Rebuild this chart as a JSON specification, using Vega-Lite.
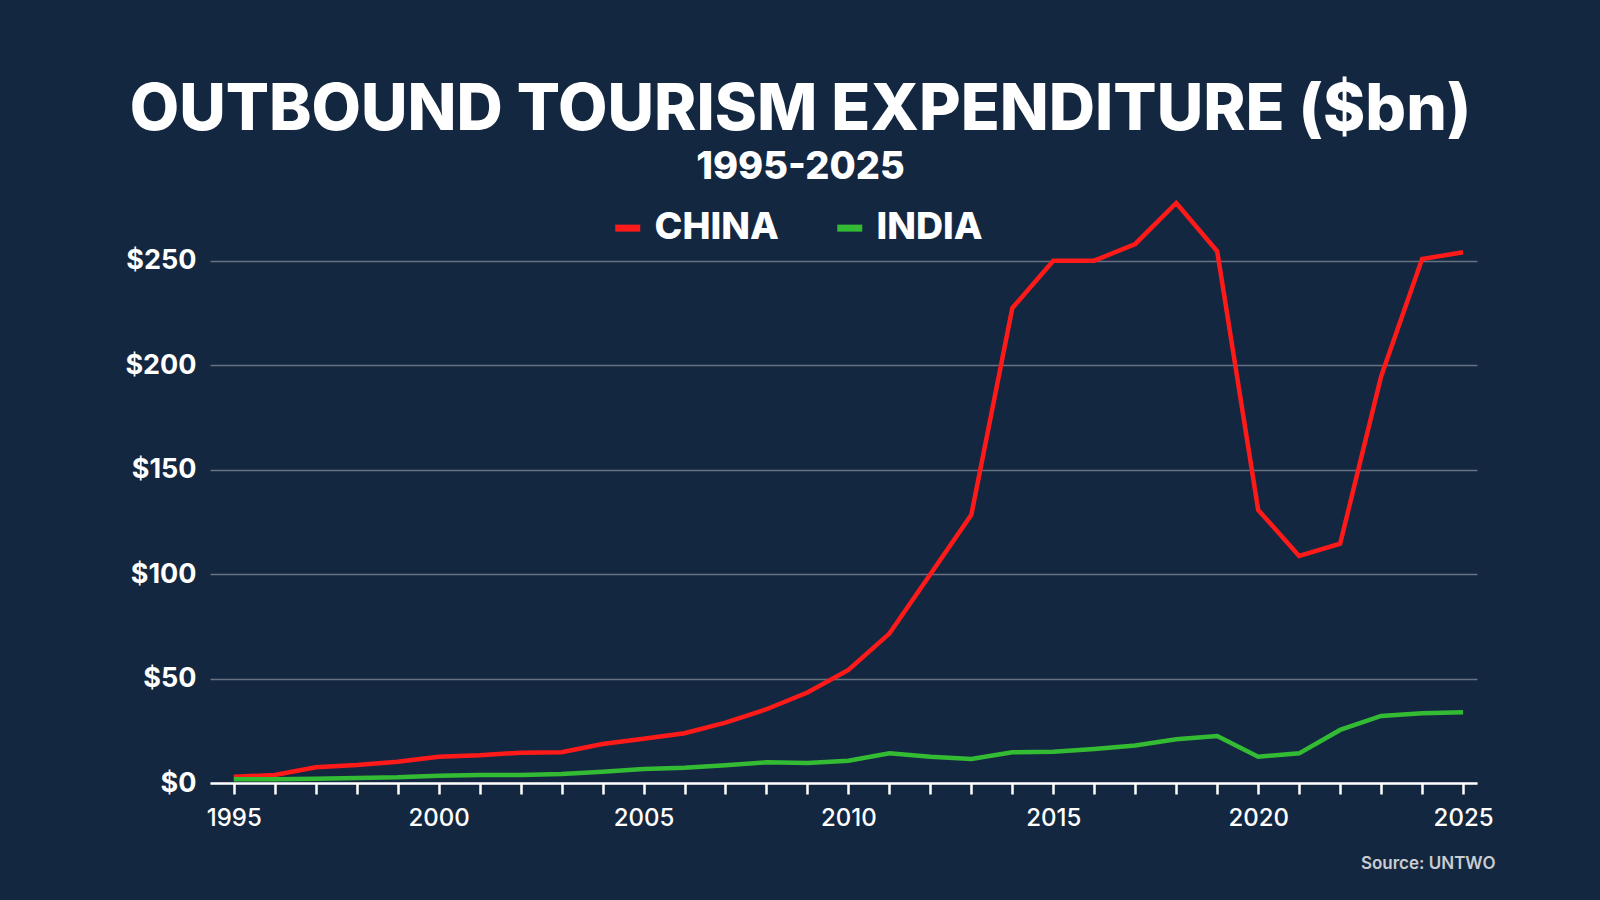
{
  "$schema": "https://vega.github.io/schema/vega-lite/v6.json",
  "autosize": {"type": "none"},
  "width": 1267,
  "height": 585,
  "padding": {"left": 210, "top": 198, "right": 123, "bottom": 117},
  "background": "#142740",
  "config": {
    "font": "Inter",
    "view": {"stroke": null}
  },
  "title": {
    "text": "OUTBOUND TOURISM EXPENDITURE ($bn)",
    "subtitle": "1995-2025",
    "anchor": "middle",
    "frame": "group",
    "dx": -43,
    "offset": 7,
    "font": "Inter",
    "fontSize": 64,
    "fontWeight": 800,
    "color": "#ffffff",
    "subtitleFont": "Inter",
    "subtitleFontSize": 38,
    "subtitleFontWeight": 800,
    "subtitleColor": "#ffffff",
    "subtitlePadding": 6
  },
  "data": {
    "values": [
      {"year": 1995, "country": "CHINA", "value": 3.0},
      {"year": 1996, "country": "CHINA", "value": 3.8},
      {"year": 1997, "country": "CHINA", "value": 7.5},
      {"year": 1998, "country": "CHINA", "value": 8.6},
      {"year": 1999, "country": "CHINA", "value": 10.2},
      {"year": 2000, "country": "CHINA", "value": 12.6},
      {"year": 2001, "country": "CHINA", "value": 13.3},
      {"year": 2002, "country": "CHINA", "value": 14.5},
      {"year": 2003, "country": "CHINA", "value": 14.7},
      {"year": 2004, "country": "CHINA", "value": 18.7},
      {"year": 2005, "country": "CHINA", "value": 21.2},
      {"year": 2006, "country": "CHINA", "value": 23.8},
      {"year": 2007, "country": "CHINA", "value": 28.9},
      {"year": 2008, "country": "CHINA", "value": 35.3},
      {"year": 2009, "country": "CHINA", "value": 43.3},
      {"year": 2010, "country": "CHINA", "value": 54.1},
      {"year": 2011, "country": "CHINA", "value": 71.5},
      {"year": 2012, "country": "CHINA", "value": 99.9},
      {"year": 2013, "country": "CHINA", "value": 128.4},
      {"year": 2014, "country": "CHINA", "value": 227.3},
      {"year": 2015, "country": "CHINA", "value": 250.0},
      {"year": 2016, "country": "CHINA", "value": 250.0},
      {"year": 2017, "country": "CHINA", "value": 258.0},
      {"year": 2018, "country": "CHINA", "value": 277.6},
      {"year": 2019, "country": "CHINA", "value": 254.5},
      {"year": 2020, "country": "CHINA", "value": 130.7},
      {"year": 2021, "country": "CHINA", "value": 108.7},
      {"year": 2022, "country": "CHINA", "value": 114.5},
      {"year": 2023, "country": "CHINA", "value": 194.6},
      {"year": 2024, "country": "CHINA", "value": 250.8},
      {"year": 2025, "country": "CHINA", "value": 254.0},
      {"year": 1995, "country": "INDIA", "value": 1.8},
      {"year": 1996, "country": "INDIA", "value": 1.8},
      {"year": 1997, "country": "INDIA", "value": 2.0},
      {"year": 1998, "country": "INDIA", "value": 2.4},
      {"year": 1999, "country": "INDIA", "value": 2.7},
      {"year": 2000, "country": "INDIA", "value": 3.5},
      {"year": 2001, "country": "INDIA", "value": 3.8},
      {"year": 2002, "country": "INDIA", "value": 3.8},
      {"year": 2003, "country": "INDIA", "value": 4.3},
      {"year": 2004, "country": "INDIA", "value": 5.4},
      {"year": 2005, "country": "INDIA", "value": 6.7},
      {"year": 2006, "country": "INDIA", "value": 7.3},
      {"year": 2007, "country": "INDIA", "value": 8.5},
      {"year": 2008, "country": "INDIA", "value": 9.9},
      {"year": 2009, "country": "INDIA", "value": 9.6},
      {"year": 2010, "country": "INDIA", "value": 10.7},
      {"year": 2011, "country": "INDIA", "value": 14.2},
      {"year": 2012, "country": "INDIA", "value": 12.6},
      {"year": 2013, "country": "INDIA", "value": 11.5},
      {"year": 2014, "country": "INDIA", "value": 14.7},
      {"year": 2015, "country": "INDIA", "value": 15.0},
      {"year": 2016, "country": "INDIA", "value": 16.3},
      {"year": 2017, "country": "INDIA", "value": 18.0},
      {"year": 2018, "country": "INDIA", "value": 20.9},
      {"year": 2019, "country": "INDIA", "value": 22.5},
      {"year": 2020, "country": "INDIA", "value": 12.6},
      {"year": 2021, "country": "INDIA", "value": 14.2},
      {"year": 2022, "country": "INDIA", "value": 25.4},
      {"year": 2023, "country": "INDIA", "value": 32.1},
      {"year": 2024, "country": "INDIA", "value": 33.4},
      {"year": 2025, "country": "INDIA", "value": 33.9}
    ]
  },
  "mark": {"type": "line", "strokeWidth": 4.5, "strokeJoin": "miter", "clip": false},
  "encoding": {
    "x": {
      "field": "year",
      "type": "quantitative",
      "scale": {"domain": [1994.42, 2025.34], "nice": false, "zero": false},
      "axis": {
        "title": "Source: UNTWO",
        "titleX": 1285,
        "titleY": 80,
        "titleAlign": "right",
        "titleBaseline": "middle",
        "titleFont": "Inter",
        "titleFontSize": 17,
        "titleFontWeight": 600,
        "titleColor": "#c9ccd0",
        "values": [1995, 1996, 1997, 1998, 1999, 2000, 2001, 2002, 2003, 2004, 2005, 2006, 2007, 2008, 2009, 2010, 2011, 2012, 2013, 2014, 2015, 2016, 2017, 2018, 2019, 2020, 2021, 2022, 2023, 2024, 2025],
        "format": "d",
        "labelExpr": "datum.value % 5 === 0 ? datum.label : ''",
        "labelFont": "Inter",
        "labelFontSize": 24,
        "labelFontWeight": 500,
        "labelColor": "#ffffff",
        "labelPadding": 12,
        "labelOverlap": false,
        "labelFlush": false,
        "grid": false,
        "domainColor": "#ffffff",
        "domainWidth": 2.5,
        "tickColor": "#ffffff",
        "tickWidth": 2.5,
        "tickSize": 11,
        "tickOffset": 0
      }
    },
    "y": {
      "field": "value",
      "type": "quantitative",
      "scale": {"domain": [0, 280], "nice": false},
      "axis": {
        "title": null,
        "values": [0, 50, 100, 150, 200, 250],
        "format": "$.0f",
        "labelFont": "Inter",
        "labelFontSize": 27,
        "labelFontWeight": 700,
        "labelColor": "#ffffff",
        "labelPadding": 14,
        "domain": false,
        "ticks": false,
        "grid": true,
        "gridColor": "#ffffff",
        "gridOpacity": 0.35,
        "gridWidth": 1.5
      }
    },
    "color": {
      "field": "country",
      "type": "nominal",
      "scale": {"domain": ["CHINA", "INDIA"], "range": ["#ff1a1a", "#33bb33"]},
      "legend": {
        "title": null,
        "orient": "none",
        "direction": "horizontal",
        "legendX": 399,
        "legendY": 11,
        "symbolType": "stroke",
        "symbolSize": 625,
        "symbolStrokeWidth": 7,
        "labelFont": "Inter",
        "labelFontSize": 37.5,
        "labelFontWeight": 800,
        "labelColor": "#ffffff",
        "labelOffset": 8,
        "columnPadding": 44,
        "labelLimit": 0
      }
    }
  }
}
